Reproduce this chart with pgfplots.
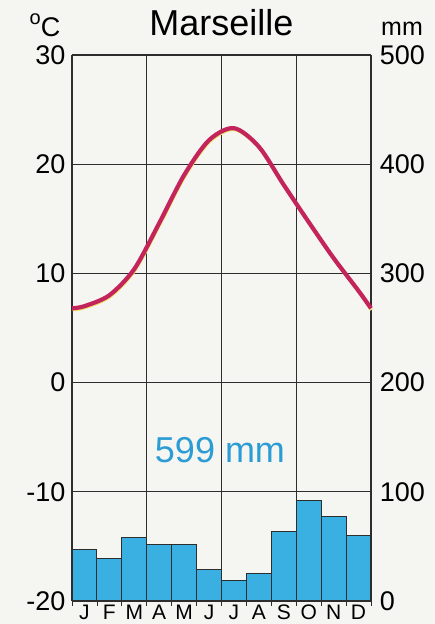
\documentclass[border=0pt]{standalone}
\usepackage{pgfplots}
\pgfplotsset{compat=1.18}
\usepackage{fontspec}
\setmainfont{Liberation Sans}

\definecolor{barblue}{RGB}{58,176,226}
\definecolor{curvered}{RGB}{196,36,92}
\definecolor{shadowyel}{RGB}{236,226,96}
\definecolor{txtblue}{RGB}{44,156,212}
\definecolor{paper}{RGB}{245,245,242}
\definecolor{gridc}{RGB}{45,45,45}

% Temperatur (°C), Monatsmitte
\pgfplotstableread{
x   t
0   6.8
0.5 7.0
1.5 8.0
2.5 10.4
3.5 14.6
4.5 19.0
5.5 22.2
6.5 23.3
7.5 21.6
8.5 18.1
9.5 14.7
10.5 11.4
11.5 8.4
12  6.8
}\temp

% Niederschlag (mm)
\pgfplotstableread{
x    p
0.5  47
1.5  39
2.5  58
3.5  52
4.5  52
5.5  29
6.5  19
7.5  25
8.5  64
9.5  92
10.5 77
11.5 60
}\prec

\begin{document}
\begin{tikzpicture}
  \fill[paper] (-72pt,-23pt) rectangle (363pt,601pt);
  \path[use as bounding box] (-72pt,-23pt) rectangle (363pt,601pt);

  % Niederschlag, rechte Achse
  \begin{axis}[
      scale only axis, width=299pt, height=546pt,
      xmin=0, xmax=12, ymin=0, ymax=500,
      axis y line*=right, axis x line*=bottom,
      axis line style={gridc, line width=1.3pt},
      xtick={0.5,1.5,...,11.5},
      xticklabels={J,F,M,A,M,J,J,A,S,O,N,D},
      minor xtick={0,1,...,12},
      major x tick style={draw=none},
      minor x tick style={gridc, line width=0.8pt},
      minor tick length=5pt,
      tick align=outside,
      xticklabel style={font=\fontsize{21}{21}\selectfont, yshift=4pt},
      ytick={0,100,...,500},
      yticklabels={0,100,200,300,400,500},
      major y tick style={draw=none},
      yticklabel style={font=\fontsize{27}{27}\selectfont, xshift=1pt},
    ]
    \addplot[ybar, bar width=1, bar shift=0pt, fill=barblue, draw=gridc, line width=0.9pt]
      table[x=x, y=p] {\prec};
    \node[fill=paper, inner sep=2pt, text=txtblue, font=\fontsize{36}{36}\selectfont]
      at (axis cs:5.94,138) {599 mm};
  \end{axis}

  % Temperatur, linke Achse
  \begin{axis}[
      scale only axis, width=299pt, height=546pt,
      xmin=0, xmax=12, ymin=-20, ymax=30,
      axis y line*=left,
      axis line style={gridc, line width=1.3pt},
      xtick={0,3,6,9,12}, xticklabels={},
      ytick={-20,-10,0,10,20,30},
      yticklabels={-20,-10,0,10,20,30},
      major tick length=0pt,
      grid=major,
      grid style={gridc, line width=1.2pt},
      yticklabel style={font=\fontsize{27}{27}\selectfont, xshift=-3pt},
      clip=false,
    ]
    \addplot[shadowyel, line width=2.8pt, smooth, shift={(0.6pt,-1.6pt)}]
      table[x=x, y=t] {\temp};
    \addplot[curvered, line width=4.2pt, smooth]
      table[x=x, y=t] {\temp};
    \draw[gridc, line width=1.3pt] (rel axis cs:0,1) -- (rel axis cs:1,1);
    \node[anchor=base, font=\fontsize{36}{36}\selectfont]
      at ([yshift=19pt]rel axis cs:0.5,1) {Marseille};
    \node[anchor=base, font=\fontsize{27}{27}\selectfont]
      at ([xshift=-27pt, yshift=18pt]rel axis cs:0,1) {\raisebox{0.45em}{\fontsize{20}{20}\selectfont o}C};
    \node[anchor=base, font=\fontsize{25}{25}\selectfont]
      at ([xshift=31pt, yshift=19pt]rel axis cs:1,1) {mm};
  \end{axis}
\end{tikzpicture}
\end{document}
